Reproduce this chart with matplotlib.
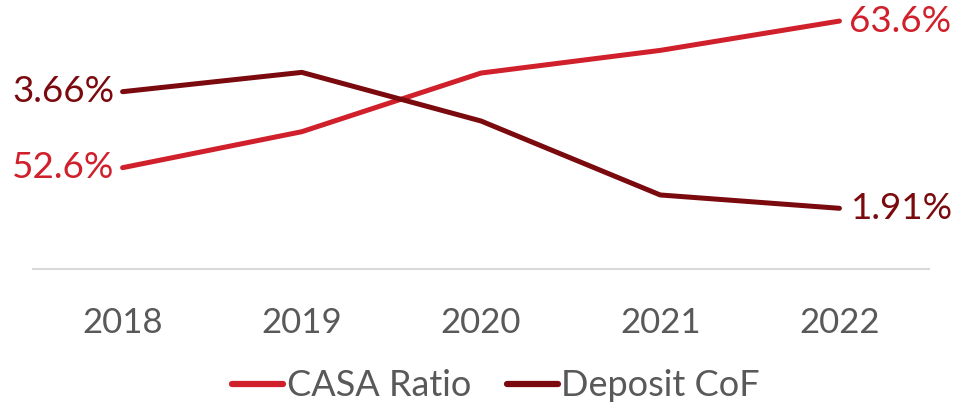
import matplotlib.pyplot as plt
from matplotlib.lines import Line2D

plt.rcParams['font.family'] = ['Lato', 'DejaVu Sans']

years = ['2018', '2019', '2020', '2021', '2022']
casa_ratio = [52.6, 55.3, 59.7, 61.4, 63.6]
deposit_cof = [3.66, 3.95, 3.22, 2.11, 1.91]

casa_color = '#D0202B'
cof_color = '#7A0A0E'
grey_text = '#595959'

fig = plt.figure(figsize=(9.56, 4.15), dpi=100)
ax = fig.add_axes([0.0345, 0.3518, 0.9373, 0.6482])
ax2 = ax.twinx()

x = list(range(len(years)))
ax.plot(x, casa_ratio, color=casa_color, lw=3.6, solid_capstyle='round',
        solid_joinstyle='round', zorder=3)
ax2.plot(x, deposit_cof, color=cof_color, lw=3.6, solid_capstyle='round',
         solid_joinstyle='round', zorder=3)

ax.set_xlim(-0.5, 4.5)
ax.set_ylim(45.0, 65.18)
ax2.set_ylim(0.999, 5.036)

# end-point labels
lbl_size = 26.5
ax.annotate(f'{casa_ratio[0]:.1f}%', (x[0], casa_ratio[0]), xytext=(-8, 0),
            textcoords='offset pixels', ha='right', va='center',
            color=casa_color, fontsize=lbl_size)
ax.annotate(f'{casa_ratio[-1]:.1f}%', (x[-1], casa_ratio[-1]), xytext=(10, 0),
            textcoords='offset pixels', ha='left', va='center',
            color=casa_color, fontsize=lbl_size)
ax2.annotate(f'{deposit_cof[0]:.2f}%', (x[0], deposit_cof[0]), xytext=(-8, 0),
             textcoords='offset pixels', ha='right', va='center',
             color=cof_color, fontsize=lbl_size)
ax2.annotate(f'{deposit_cof[-1]:.2f}%', (x[-1], deposit_cof[-1]), xytext=(12, 0),
             textcoords='offset pixels', ha='left', va='center',
             color=cof_color, fontsize=lbl_size)

for a in (ax, ax2):
    for side in ('top', 'left', 'right', 'bottom'):
        a.spines[side].set_visible(False)
    a.set_yticks([])
ax.spines['bottom'].set_visible(True)
ax.spines['bottom'].set_color('#D9D9D9')
ax.spines['bottom'].set_linewidth(1.5)

ax.set_xticks(x)
ax.set_xticklabels(years)
ax.tick_params(axis='x', length=0, pad=27, labelsize=25, labelcolor=grey_text)

handles = [Line2D([], [], color=casa_color, lw=4.5, solid_capstyle='round'),
           Line2D([], [], color=cof_color, lw=4.5, solid_capstyle='round')]
fig.legend(handles, ['CASA Ratio', 'Deposit CoF'], loc='center',
           bbox_to_anchor=(0.519, 0.07), ncol=2, frameon=False,
           handlelength=1.4, handletextpad=0.1, columnspacing=1.0,
           fontsize=26, labelcolor=grey_text)

fig.savefig('out.png', dpi=100)
